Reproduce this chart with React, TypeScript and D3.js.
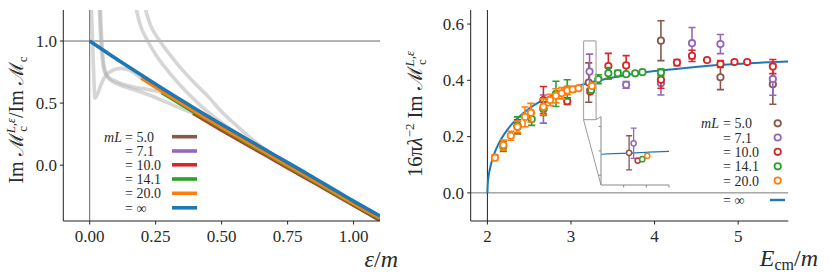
import React from "react";
import * as d3 from "d3";

// ---------- Left panel data ----------
const lEpsInf = [0, 0.1, 0.2, 0.3, 0.4, 0.5, 0.6, 0.7, 0.8, 0.9, 1.0, 1.1];
const lValInf = [1.0, 0.858, 0.72, 0.585, 0.455, 0.328, 0.205, 0.082, -0.04, -0.165, -0.29, -0.41];

const lEps20 = [0.195, 0.3, 0.4, 0.5, 0.6, 0.7, 0.8, 0.9, 1.0, 1.1];
const lVal20 = [0.702, 0.562, 0.432, 0.305, 0.183, 0.06, -0.06, -0.184, -0.308, -0.426];
const lEps14 = [0.273, 0.4, 0.5, 0.6, 0.7, 0.8, 0.9, 1.0, 1.1];
const lVal14 = [0.585, 0.42, 0.295, 0.172, 0.05, -0.07, -0.194, -0.316, -0.433];
const lEps10 = [0.392, 0.5, 0.6, 0.7, 0.8, 0.9, 1.0, 1.1];
const lVal10 = [0.418, 0.282, 0.16, 0.04, -0.08, -0.202, -0.323, -0.439];
const lEps7 = [0.557, 0.6, 0.7, 0.8, 0.9, 1.0, 1.1];
const lVal7 = [0.255, 0.195, 0.07, -0.054, -0.18, -0.305, -0.425];
const lEps5 = [0.79, 0.9, 1.0, 1.1];
const lVal5 = [-0.067, -0.193, -0.32, -0.446];

// grey full finite-volume curves (part before the coloured segment)
const gEps20 = [0.006, 0.011, 0.015, 0.02, 0.03, 0.045, 0.06, 0.08, 0.1, 0.12, 0.15, 0.195];
const gVal20 = [1.3, 1.0, 0.75, 0.54, 0.575, 0.66, 0.72, 0.755, 0.775, 0.78, 0.765, 0.702];
const gEps14 = [0.036, 0.042, 0.048, 0.055, 0.065, 0.08, 0.1, 0.13, 0.165, 0.22, 0.273];
const gVal14 = [1.3, 1.0, 0.85, 0.76, 0.72, 0.695, 0.675, 0.65, 0.63, 0.61, 0.585];
const gEps10 = [0.04, 0.046, 0.052, 0.06, 0.07, 0.085, 0.11, 0.15, 0.2, 0.26, 0.32, 0.392];
const gVal10 = [1.3, 1.0, 0.84, 0.75, 0.705, 0.675, 0.65, 0.62, 0.585, 0.535, 0.48, 0.418];
const gEps7 = [0.172, 0.19, 0.22, 0.26, 0.3, 0.36, 0.42, 0.48, 0.557];
const gVal7 = [1.3, 1.14, 1.0, 0.86, 0.75, 0.605, 0.48, 0.375, 0.255];
const gEps5 = [0.205, 0.23, 0.266, 0.3, 0.35, 0.4, 0.45, 0.5, 0.55, 0.6, 0.65, 0.7, 0.79];
const gVal5 = [1.3, 1.13, 1.0, 0.9, 0.77, 0.655, 0.55, 0.43, 0.33, 0.235, 0.15, 0.075, -0.067];

const lXTicks = [0, 0.25, 0.5, 0.75, 1.0];
const lYTicks = [0, 0.5, 1.0];

// ---------- Right panel data ----------
const eInf = [2.0, 2.005, 2.01, 2.02, 2.035, 2.05, 2.075, 2.1, 2.15, 2.2, 2.3, 2.4, 2.5, 2.65, 2.8, 3.0, 3.15, 3.2, 3.25, 3.3, 3.4, 3.7, 4.0, 4.4, 4.8, 5.2, 5.6];
const vInf = [0, 0.035, 0.05, 0.07, 0.092, 0.11, 0.133, 0.153, 0.184, 0.208, 0.247, 0.276, 0.3, 0.328, 0.35, 0.373, 0.386, 0.39, 0.394, 0.398, 0.404, 0.421, 0.433, 0.445, 0.455, 0.462, 0.467];

const r5E = [3.212, 4.076, 4.788, 5.415];
const r5V = [0.392, 0.541, 0.411, 0.386];
const r5Err = [0.07, 0.071, 0.044, 0.071];

const r7E = [2.67, 3.222, 3.66, 4.076, 4.448, 4.788, 5.415];
const r7V = [0.298, 0.431, 0.384, 0.39, 0.532, 0.529, 0.405];
const r7Err = [0.05, 0.062, 0.012, 0.042, 0.056, 0.034, 0.058];

const r10E = [2.36, 2.67, 2.955, 3.231, 3.447, 3.66, 4.076, 4.268, 4.448, 4.628, 4.788, 4.956, 5.108, 5.415];
const r10V = [0.235, 0.33, 0.326, 0.36, 0.451, 0.453, 0.402, 0.463, 0.487, 0.472, 0.458, 0.465, 0.465, 0.449];
const r10Err = [0.025, 0.048, 0.012, 0.006, 0.045, 0.035, 0.03, 0.011, 0.02, 0, 0.012, 0, 0, 0.025];

const r14E = [2.19, 2.36, 2.53, 2.67, 2.82, 2.955, 3.241, 3.327, 3.447, 3.56, 3.66, 3.768, 3.855, 4.076];
const r14V = [0.165, 0.24, 0.262, 0.3, 0.352, 0.368, 0.366, 0.404, 0.425, 0.425, 0.422, 0.425, 0.429, 0.428];
const r14Err = [0.018, 0.03, 0.022, 0.025, 0.045, 0.034, 0.006, 0.016, 0.02, 0.011, 0, 0, 0, 0.012];

const r20E = [2.09, 2.19, 2.28, 2.36, 2.45, 2.52, 2.67, 2.75, 2.82, 2.89, 2.955, 3.02, 3.09, 3.252];
const r20V = [0.125, 0.17, 0.203, 0.235, 0.27, 0.285, 0.306, 0.33, 0.345, 0.354, 0.364, 0.368, 0.372, 0.38];
const r20Err = [0.01, 0.018, 0.016, 0.02, 0.035, 0.033, 0.028, 0.02, 0.025, 0.02, 0.015, 0.01, 0.008, 0.008];

const rXTicks = [2, 3, 4, 5];
const rYTicks = [0, 0.2, 0.4, 0.6];
const insetX = [3.15, 3.3];
const insetY = [0.26, 0.54];
const insetXTicks = [3.2, 3.25, 3.3];
const insetYTicks = [0.3, 0.4, 0.5];

const mLLabels = ["5.0", "7.1", "10.0", "14.1", "20.0"];
const colors = ["#8c564b", "#9467bd", "#d62728", "#2ca02c", "#ff7f0e"];
const BLUE = "#1f77b4";
const FONT = '"Liberation Serif", "DejaVu Serif", serif';
const TXT = "#2a2a2a";
const LEGF = 14;

export default function App() {
  const lx = d3.scaleLinear().domain([-0.1, 1.1]).range([63.3, 380]);
  const ly = d3.scaleLinear().domain([-0.45, 1.25]).range([221, 10]);
  const rx = d3.scaleLinear().domain([1.8, 5.6]).range([470.7, 788.3]);
  const ry = d3.scaleLinear().domain([-0.1, 0.65]).range([221, 10]);
  const ix = d3.scaleLinear().domain(insetX).range([601, 669]);
  const iy = d3.scaleLinear().domain(insetY).range([185, 116.7]);

  const lLine = d3
    .line<[number, number]>()
    .x((d) => lx(d[0]))
    .y((d) => ly(d[1]))
    .curve(d3.curveMonotoneX);
  const zip = (a: number[], b: number[]) => a.map((v, i) => [v, b[i]] as [number, number]);

  const segs = [
    [lEps5, lVal5],
    [lEps7, lVal7],
    [lEps10, lVal10],
    [lEps14, lVal14],
    [lEps20, lVal20],
  ];
  const greys = [
    [gEps5, gVal5],
    [gEps7, gVal7],
    [gEps10, gVal10],
    [gEps14, gVal14],
    [gEps20, gVal20],
  ];

  const rLine = d3
    .line<[number, number]>()
    .x((d) => rx(d[0]))
    .y((d) => ry(d[1]))
    .curve(d3.curveMonotoneX);
  const iLine = d3
    .line<[number, number]>()
    .x((d) => ix(d[0]))
    .y((d) => iy(d[1]))
    .curve(d3.curveMonotoneX);

  const rSeries = [
    [r5E, r5V, r5Err],
    [r7E, r7V, r7Err],
    [r10E, r10V, r10Err],
    [r14E, r14V, r14Err],
    [r20E, r20V, r20Err],
  ];

  const insetPts = rSeries.map(([E, V, Er]) => {
    const i = E.findIndex((e) => e >= insetX[0] && e <= insetX[1]);
    return [E[i], V[i], Er[i]];
  });

  const lLegY = [136.7, 151, 164.8, 179, 193.3, 207.8];
  const rLegY = [123.3, 137.5, 151.8, 166.3, 180.6];
  const fs = { fontFamily: FONT };

  return (
    <svg width={830} height={280} style={{ position: "absolute", left: 0, top: 0, background: "#fff", fontFamily: FONT }}>
      <defs>
        <clipPath id="lclip">
          <rect x={63.3} y={10} width={316.7} height={211} />
        </clipPath>
        <clipPath id="rclip">
          <rect x={470.7} y={10} width={317.6} height={211} />
        </clipPath>
        <clipPath id="iclip">
          <rect x={601} y={116.7} width={68} height={68.3} />
        </clipPath>
      </defs>

      {/* ================= LEFT PANEL ================= */}
      <g clipPath="url(#lclip)">
        <line x1={lx(-0.1)} x2={lx(1.1)} y1={ly(1)} y2={ly(1)} stroke="#666" strokeWidth={1} />
        <line x1={lx(0)} x2={lx(0)} y1={ly(1.25)} y2={ly(-0.45)} stroke="#666" strokeWidth={1} />
        {greys.map(([e, v], i) => {
          const pts = zip(e, v).concat(zip(segs[i][0], segs[i][1]).slice(1));
          return <path key={i} d={lLine(pts) || ""} fill="none" stroke="#b4b4b4" strokeOpacity={0.55} strokeWidth={3.6} />;
        })}
        {segs.map(([e, v], i) => (
          <path key={i} d={lLine(zip(e, v)) || ""} fill="none" stroke={colors[i]} strokeWidth={3.6} />
        ))}
        <path d={lLine(zip(lEpsInf, lValInf)) || ""} fill="none" stroke={BLUE} strokeWidth={3.6} />
      </g>
      <line x1={63.3} x2={63.3} y1={10} y2={221} stroke="#222" strokeWidth={1} />
      <line x1={63.3} x2={380} y1={221} y2={221} stroke="#222" strokeWidth={1} />
      {lXTicks.map((t) => (
        <g key={t}>
          <line x1={lx(t)} x2={lx(t)} y1={221} y2={224.5} stroke="#222" />
          <text x={lx(t)} y={242} textAnchor="middle" fontSize={17} fill={TXT} style={fs}>
            {t.toFixed(2)}
          </text>
        </g>
      ))}
      {lYTicks.map((t) => (
        <g key={t}>
          <line x1={59.8} x2={63.3} y1={ly(t)} y2={ly(t)} stroke="#222" />
          <text x={57} y={ly(t)} dy="0.34em" textAnchor="end" fontSize={17} fill={TXT} style={fs}>
            {t.toFixed(1)}
          </text>
        </g>
      ))}
      <text x={398} y={267} textAnchor="end" fontSize={24} fill={TXT} style={fs}>
        <tspan fontStyle="italic">ε</tspan>/<tspan fontStyle="italic">m</tspan>
      </text>
      <text transform="translate(23,120) rotate(-90)" textAnchor="middle" fontSize={20} fill={TXT} style={fs}>
        Im ℳ<tspan fontSize={13} dy={-8} fontStyle="italic">L,ε</tspan>
        <tspan fontSize={13} dx={-14} dy={12}>c</tspan>
        <tspan dx={8} dy={-4}>/Im ℳ</tspan>
        <tspan fontSize={13} dy={4}>c</tspan>
      </text>
      {[...mLLabels, "∞"].map((lab, i) => (
        <g key={i}>
          {i === 0 && (
            <text x={122} y={lLegY[i] + 5} textAnchor="end" fontSize={LEGF} fontStyle="italic" fill={TXT} style={fs}>
              mL
            </text>
          )}
          <text x={125} y={lLegY[i] + 5} fontSize={LEGF} fill={TXT} style={fs}>
            = {lab}
          </text>
          <line x1={172} x2={197} y1={lLegY[i]} y2={lLegY[i]} stroke={i < 5 ? colors[i] : BLUE} strokeWidth={3.6} />
        </g>
      ))}

      {/* ================= RIGHT PANEL ================= */}
      <g clipPath="url(#rclip)">
        <line x1={rx(1.8)} x2={rx(5.6)} y1={ry(0)} y2={ry(0)} stroke="#777" strokeWidth={1} />
        <line x1={rx(2)} x2={rx(2)} y1={ry(0.65)} y2={ry(-0.1)} stroke="#222" strokeWidth={1} />
        <path d={rLine(zip(eInf, vInf)) || ""} fill="none" stroke={BLUE} strokeWidth={2} />
        {rSeries.map(([E, V, Er], s) => (
          <g key={s} stroke={colors[s]}>
            {E.map((e, i) => (
              <g key={i}>
                {Er[i] > 0 && (
                  <g strokeWidth={1.6}>
                    <line x1={rx(e)} x2={rx(e)} y1={ry(V[i] - Er[i])} y2={ry(V[i] + Er[i])} />
                    <line x1={rx(e) - 3.6} x2={rx(e) + 3.6} y1={ry(V[i] - Er[i])} y2={ry(V[i] - Er[i])} />
                    <line x1={rx(e) - 3.6} x2={rx(e) + 3.6} y1={ry(V[i] + Er[i])} y2={ry(V[i] + Er[i])} />
                  </g>
                )}
                <circle cx={rx(e)} cy={ry(V[i])} r={3.2} fill="#fff" strokeWidth={1.8} />
              </g>
            ))}
          </g>
        ))}
      </g>
      <rect
        x={rx(insetX[0])}
        y={ry(insetY[1])}
        width={rx(insetX[1]) - rx(insetX[0])}
        height={ry(insetY[0]) - ry(insetY[1])}
        fill="none"
        stroke="#aaa"
        strokeWidth={1.2}
        rx={1}
      />
      <line x1={rx(insetX[0])} y1={ry(insetY[0])} x2={ix(insetX[0])} y2={iy(insetY[0])} stroke="#999" strokeWidth={1} />
      <line x1={rx(insetX[1])} y1={ry(insetY[0])} x2={ix(insetX[0])} y2={iy(insetY[1])} stroke="#999" strokeWidth={1} />
      <rect x={601} y={116.7} width={68} height={68.3} fill="#fff" />
      <g clipPath="url(#iclip)">
        <path d={iLine(zip(eInf, vInf)) || ""} fill="none" stroke={BLUE} strokeWidth={1.2} />
        {insetPts.map(([e, v, er], s) => (
          <g key={s} stroke={colors[s]}>
            {er > 0.01 && (
              <g strokeWidth={1.3}>
                <line x1={ix(e)} x2={ix(e)} y1={iy(v - er)} y2={iy(v + er)} />
                <line x1={ix(e) - 3} x2={ix(e) + 3} y1={iy(v - er)} y2={iy(v - er)} />
                <line x1={ix(e) - 3} x2={ix(e) + 3} y1={iy(v + er)} y2={iy(v + er)} />
              </g>
            )}
            <circle cx={ix(e)} cy={iy(v)} r={2.6} fill="#fff" strokeWidth={1.5} />
          </g>
        ))}
      </g>
      <line x1={601} x2={601} y1={116.7} y2={185} stroke="#888" strokeWidth={1} />
      <line x1={601} x2={669} y1={185} y2={185} stroke="#888" strokeWidth={1} />
      {insetXTicks.map((t) => (
        <line key={t} x1={ix(t)} x2={ix(t)} y1={185} y2={187.5} stroke="#888" />
      ))}
      {insetYTicks.map((t) => (
        <line key={t} x1={598.5} x2={601} y1={iy(t)} y2={iy(t)} stroke="#888" />
      ))}
      <line x1={470.7} x2={470.7} y1={10} y2={221} stroke="#222" strokeWidth={1} />
      <line x1={470.7} x2={788.3} y1={221} y2={221} stroke="#222" strokeWidth={1} />
      {rXTicks.map((t) => (
        <g key={t}>
          <line x1={rx(t)} x2={rx(t)} y1={221} y2={224.5} stroke="#222" />
          <text x={rx(t)} y={242} textAnchor="middle" fontSize={17} fill={TXT} style={fs}>
            {t}
          </text>
        </g>
      ))}
      {rYTicks.map((t) => (
        <g key={t}>
          <line x1={467.2} x2={470.7} y1={ry(t)} y2={ry(t)} stroke="#222" />
          <text x={464} y={ry(t)} dy="0.34em" textAnchor="end" fontSize={17} fill={TXT} style={fs}>
            {t.toFixed(1)}
          </text>
        </g>
      ))}
      <text x={818} y={266} textAnchor="end" fontSize={24} fill={TXT} style={fs}>
        <tspan fontStyle="italic">E</tspan>
        <tspan fontSize={16} dy={4}>cm</tspan>
        <tspan dy={-4}>/</tspan>
        <tspan fontStyle="italic">m</tspan>
      </text>
      <text transform="translate(422,114) rotate(-90)" textAnchor="middle" fontSize={20.5} fill={TXT} style={fs}>
        16π<tspan fontStyle="italic">λ</tspan>
        <tspan fontSize={13} dy={-8}>−2</tspan>
        <tspan dy={8}> Im ℳ</tspan>
        <tspan fontSize={13} dy={-8} fontStyle="italic">L,ε</tspan>
        <tspan fontSize={13} dx={-14} dy={12}>c</tspan>
      </text>
      {mLLabels.map((lab, i) => (
        <g key={i}>
          {i === 0 && (
            <text x={719} y={rLegY[i] + 5} textAnchor="end" fontSize={LEGF} fontStyle="italic" fill={TXT} style={fs}>
              mL
            </text>
          )}
          <text x={723} y={rLegY[i] + 5} fontSize={LEGF} fill={TXT} style={fs}>
            = {lab}
          </text>
          <circle cx={777.7} cy={rLegY[i]} r={3.2} fill="#fff" stroke={colors[i]} strokeWidth={1.8} />
        </g>
      ))}
      <text x={723} y={205} fontSize={LEGF} fill={TXT} style={fs}>
        = ∞
      </text>
      <line x1={770} x2={785} y1={200} y2={200} stroke={BLUE} strokeWidth={2.4} />
    </svg>
  );
}
